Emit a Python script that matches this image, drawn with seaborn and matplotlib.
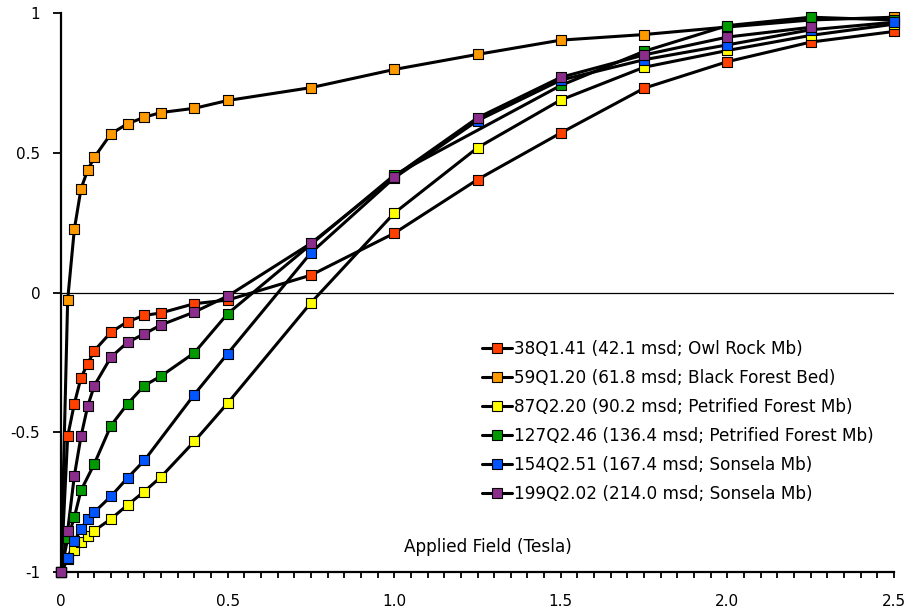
import matplotlib
matplotlib.use("Agg")
import matplotlib.pyplot as plt
from matplotlib.lines import Line2D
from matplotlib.ticker import MultipleLocator
import pandas as pd
import seaborn as sns

# Applied field steps (Tesla)
field_full = [0, 0.02, 0.04, 0.06, 0.08, 0.1, 0.15, 0.2, 0.25, 0.3, 0.4, 0.5,
              0.75, 1.0, 1.25, 1.5, 1.75, 2.0, 2.25, 2.5]
field_green = [0, 0.02, 0.04, 0.06, 0.1, 0.15, 0.2, 0.25, 0.3, 0.4, 0.5,
               1.0, 1.5, 1.75, 2.0, 2.25, 2.5]
field_blue = [0, 0.02, 0.04, 0.06, 0.08, 0.1, 0.15, 0.2, 0.25, 0.4, 0.5,
              0.75, 1.0, 1.25, 1.5, 1.75, 2.0, 2.25, 2.5]
field_purple = field_full[:-1]

# Normalised IRM for each sample
irm_38q141 = [-1, -0.515, -0.398, -0.305, -0.255, -0.208, -0.142, -0.104, -0.082,
              -0.073, -0.040, -0.027, 0.062, 0.212, 0.404, 0.571, 0.731, 0.826,
              0.896, 0.934]
irm_59q120 = [-1, -0.026, 0.226, 0.371, 0.438, 0.484, 0.568, 0.604, 0.627, 0.644,
              0.659, 0.687, 0.733, 0.798, 0.852, 0.903, 0.923, 0.950, 0.975, 0.985]
irm_87q220 = [-1, -0.955, -0.923, -0.893, -0.872, -0.852, -0.810, -0.760, -0.712,
              -0.660, -0.533, -0.396, -0.037, 0.284, 0.518, 0.689, 0.806, 0.866,
              0.920, 0.960]
irm_127q246 = [-1, -0.880, -0.804, -0.708, -0.613, -0.476, -0.398, -0.333, -0.299,
               -0.216, -0.076, 0.420, 0.741, 0.863, 0.955, 0.985, 0.975]
irm_154q251 = [-1, -0.951, -0.890, -0.846, -0.812, -0.786, -0.729, -0.663, -0.601,
               -0.365, -0.219, 0.142, 0.410, 0.615, 0.760, 0.833, 0.886, 0.940, 0.967]
irm_199q202 = [-1, -0.852, -0.656, -0.515, -0.407, -0.333, -0.231, -0.178, -0.148,
               -0.116, -0.070, -0.013, 0.176, 0.415, 0.625, 0.770, 0.850, 0.914, 0.949]

labels = ["38Q1.41 (42.1 msd; Owl Rock Mb)",
          "59Q1.20 (61.8 msd; Black Forest Bed)",
          "87Q2.20 (90.2 msd; Petrified Forest Mb)",
          "127Q2.46 (136.4 msd; Petrified Forest Mb)",
          "154Q2.51 (167.4 msd; Sonsela Mb)",
          "199Q2.02 (214.0 msd; Sonsela Mb)"]
colors = ["#FF4000", "#FF9900", "#FFFF00", "#009900", "#0055FF", "#8B2E8B"]

x_ticks = [0, 0.5, 1.0, 1.5, 2.0, 2.5]
x_tick_labels = ["0", "0.5", "1.0", "1.5", "2.0", "2.5"]
y_ticks = [-1, -0.5, 0, 0.5, 1]
y_tick_labels = ["-1", "-0.5", "0", "0.5", "1"]

series = [
    (field_full, irm_38q141),
    (field_full, irm_59q120),
    (field_full, irm_87q220),
    (field_green, irm_127q246),
    (field_blue, irm_154q251),
    (field_purple, irm_199q202),
]

sns.set_theme(style="ticks")
plt.rcParams["font.family"] = ["DejaVu Sans"]
plt.rcParams["font.size"] = 11
for key in ("text.color", "axes.labelcolor", "xtick.color", "ytick.color"):
    plt.rcParams[key] = "black"

fig = plt.figure(figsize=(9.16, 6.14), dpi=100)
ax = fig.add_axes([0.0666, 0.0684, 0.9094, 0.9104])

frames = [pd.DataFrame({"field": xs, "irm": ys}) for xs, ys in series]

# connecting lines first, markers on top of every line
for df in frames:
    sns.lineplot(data=df, x="field", y="irm", estimator=None, sort=False,
                 color="black", linewidth=2.2, ax=ax, zorder=2, legend=False)
for df, col in zip(frames, colors):
    sns.scatterplot(data=df, x="field", y="irm", marker="s", s=55, color=col,
                    edgecolor="black", linewidth=0.8, ax=ax, zorder=3,
                    clip_on=False, legend=False)

ax.axhline(0, color="black", linewidth=0.9, zorder=1)

ax.set_xlim(0, 2.5)
ax.set_ylim(-1, 1)
ax.set_xticks(x_ticks)
ax.set_xticklabels(x_tick_labels)
ax.xaxis.set_minor_locator(MultipleLocator(0.05))
ax.set_yticks(y_ticks)
ax.set_yticklabels(y_tick_labels)

ax.tick_params(axis="x", which="both", direction="out", length=4, width=1.3,
               colors="black", labelsize=11, pad=12)
ax.tick_params(axis="y", which="major", direction="out", length=6, width=1.3,
               colors="black", labelsize=11, pad=9)

sns.despine(ax=ax)
for side in ("left", "bottom"):
    ax.spines[side].set_color("black")
    ax.spines[side].set_linewidth(1.6)

ax.set_ylabel("")
ax.set_xlabel("Applied Field (Tesla)", fontsize=12.2, color="black")
ax.xaxis.set_label_coords(0.5126, 0.0447)
ax.xaxis.label.set_va("center")

handles = [Line2D([], [], color="black", linewidth=2.2, marker="s", markersize=7.4,
                  markerfacecolor=c, markeredgecolor="black", markeredgewidth=0.8)
           for c in colors]
ax.legend(handles, labels, loc="upper left", bbox_to_anchor=(0.526, 0.447),
          bbox_transform=fig.transFigure, frameon=False, fontsize=12.2,
          labelcolor="black", handlelength=1.76, handletextpad=0.16,
          labelspacing=0.65, borderpad=0, borderaxespad=0)

fig.savefig("out.png", dpi=100)
